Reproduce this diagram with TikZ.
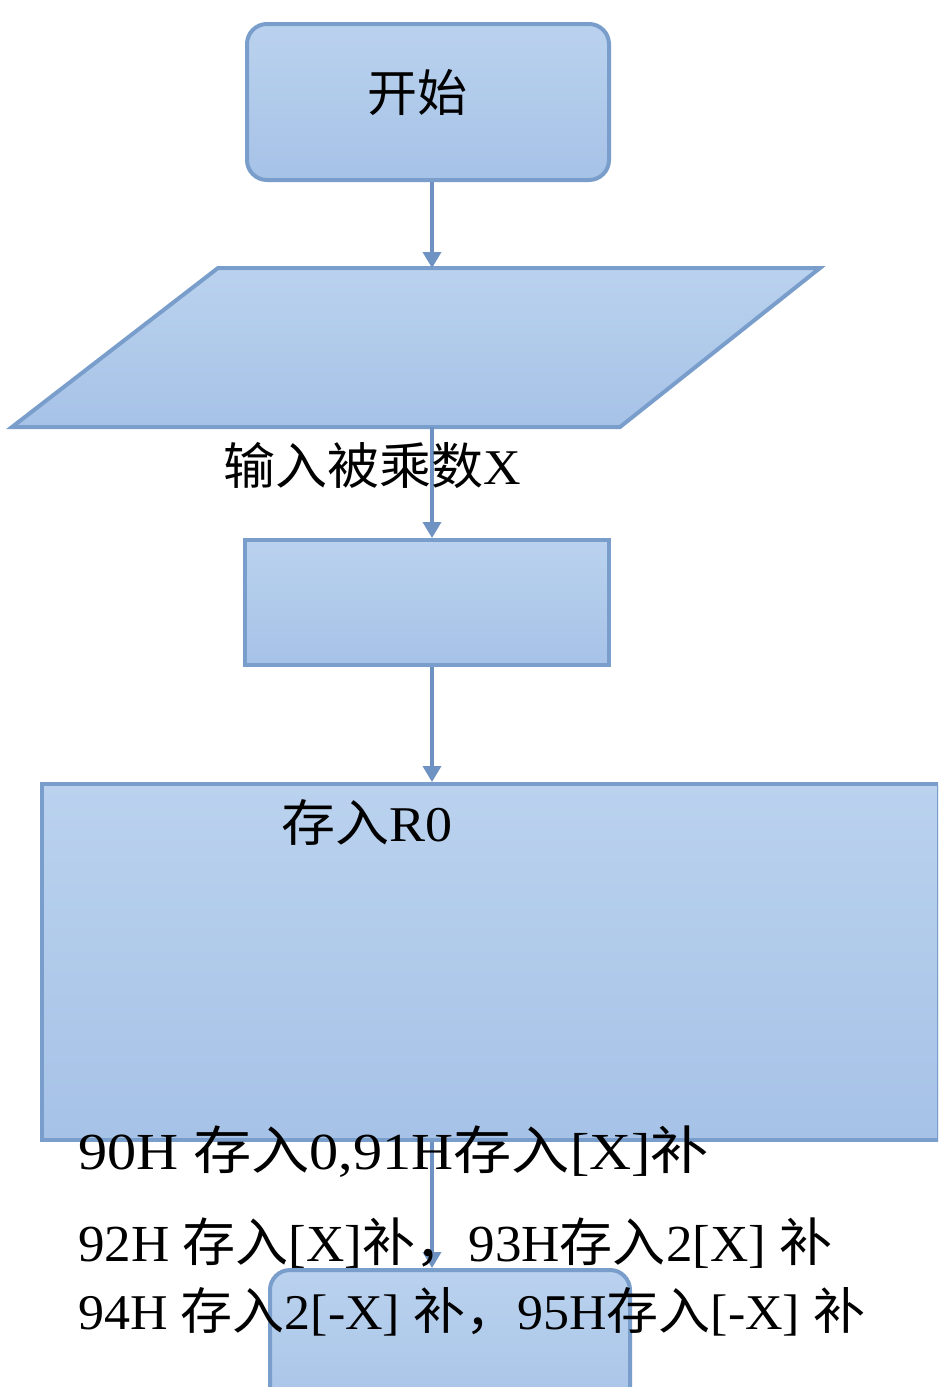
\documentclass[tikz,border=0pt]{standalone}
\usepackage{fontspec}
\setmainfont{Liberation Serif}
\newfontfamily\cjk{Noto Sans CJK SC}
\usetikzlibrary{arrows.meta}
\definecolor{fillt}{HTML}{BAD2EE}
\definecolor{fillb}{HTML}{A6C2E7}
\definecolor{bordc}{HTML}{7A9ECB}
\definecolor{arrc}{HTML}{6E93C3}
\tikzset{
  box/.style={draw=bordc, line width=4pt, top color=fillt, bottom color=fillb, inner sep=0pt},
  conn/.style={draw=arrc, line width=3.5pt, -{Triangle[width=18pt,length=16pt]}},
  lbl/.style={inner sep=0pt, text=black},
  line/.style={inner sep=0pt, anchor=west, font=\fontsize{52}{52}\selectfont}
}
\begin{document}
\begin{tikzpicture}[x=1pt,y=-1pt]
\useasboundingbox (0,0) rectangle (938,1387);
\clip (0,0) rectangle (938,1387);
\fill[white] (0,0) rectangle (938,1387);
\coordinate (ax) at (432,0);
% shapes
\node[box, rounded corners=20pt, minimum width=362pt, minimum height=156pt, anchor=north west] (start) at (245,22) {};
\path[box] (218,268) -- (820,268) -- (620,427) -- (12,427) -- cycle;
\coordinate (intop) at (432,268);
\coordinate (inbot) at (432,427);
\node[box, minimum width=364pt, minimum height=125pt, anchor=north west] (store) at (243,538) {};
\node[box, minimum width=897pt, minimum height=356pt, anchor=north west] (init) at (40,782) {};
\node[box, rounded corners=20pt, minimum width=360pt, minimum height=160pt, anchor=north west] (next) at (268,1268) {};
% connectors
\draw[conn] (start.south -| ax) -- (intop);
\draw[conn] (inbot) -- (store.north -| ax);
\draw[conn] (store.south -| ax) -- (init.north -| ax);
\draw[conn] (init.south -| ax) -- (next.north -| ax);
% texts
\node[lbl, font=\cjk\fontsize{50}{50}\selectfont] (tstart) at (417,93) {开始};
\node[lbl, font=\fontsize{50}{50}\selectfont, xscale=1.04] (tin) at (372,465) {{\cjk 输入被乘数}X};
\node[lbl, font=\fontsize{50}{50}\selectfont, xscale=1.08] (tr0) at (367,822) {{\cjk 存入}R0};
\node[line, xscale=1.12] (l1) at (78,1152) {90H {\cjk 存入}0,91H{\cjk 存入}[X]{\cjk 补}};
\node[line, xscale=1.02] (l2) at (78,1243) {92H {\cjk 存入}[X]{\cjk 补，}93H{\cjk 存入}2[X] {\cjk 补}};
\node[line, font=\fontsize{50}{50}\selectfont, xscale=1.04] (l3) at (78,1312) {94H {\cjk 存入}2[-X] {\cjk 补，}95H{\cjk 存入}[-X] {\cjk 补}};
\end{tikzpicture}
\end{document}
